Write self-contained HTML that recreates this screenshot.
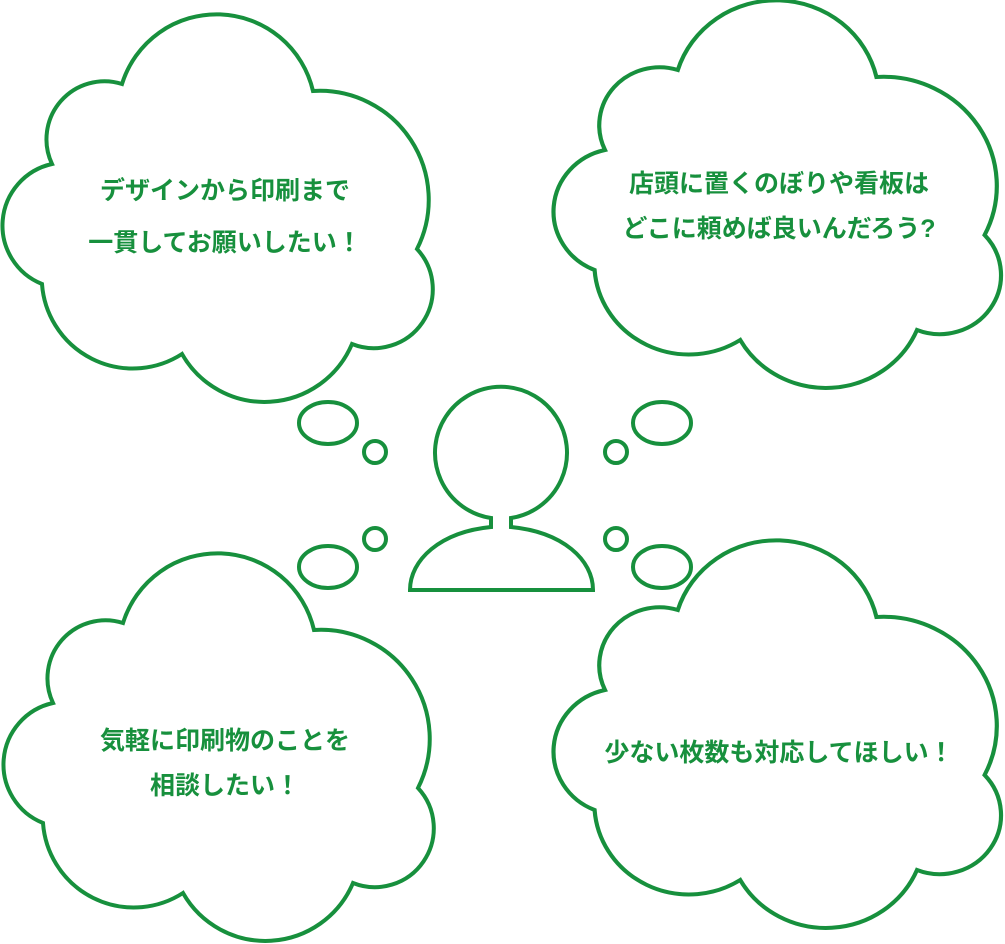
<!DOCTYPE html>
<html><head><meta charset="utf-8"><style>
body{margin:0;background:#fff;width:1005px;height:944px;overflow:hidden}
svg{display:block}
text{font-family:"Liberation Sans","Noto Sans CJK JP",sans-serif;font-weight:bold;font-size:25px;fill:#17903d;text-anchor:middle}
</style></head><body>
<svg width="1005" height="944" viewBox="0 0 1005 944">
<defs>
<path id="cl" d="M120,82 A99,99 0 0 1 311,89 A109,109 0 0 1 415,247 A59,59 0 0 1 350,342 A95,95 0 0 1 180,352 A91,91 0 0 1 40,282 A63,63 0 0 1 50,162 A58,58 0 0 1 120,82 Z"/>
</defs>
<g fill="#fff" stroke="#17903d" stroke-width="4">
<use href="#cl" transform="translate(2,2)"/>
<use href="#cl" transform="translate(553,-12) scale(1.04,1)"/>
<use href="#cl" transform="translate(3,541)"/>
<use href="#cl" transform="translate(553,528) scale(1.04,1)"/>
<ellipse cx="328" cy="423" rx="29" ry="21"/>
<circle cx="375" cy="452" r="11"/>
<circle cx="375" cy="539" r="11"/>
<ellipse cx="328" cy="567" rx="29" ry="21"/>
<ellipse cx="662" cy="423" rx="29" ry="21"/>
<circle cx="616" cy="452" r="11"/>
<circle cx="616" cy="539" r="11"/>
<ellipse cx="662" cy="567" rx="29" ry="21"/>
<path d="M491,518 A66,66 0 1 1 511,518 L511,527 C563,532 593,560 593,590 L410,590 C410,560 440,532 491,527 Z"/>
</g>
<text x="225" y="199">デザインから印刷まで</text>
<text x="225" y="251">一貫してお願いしたい！</text>
<text x="779" y="192">店頭に置くのぼりや看板は</text>
<text x="779" y="237">どこに頼めば良いんだろう?</text>
<text x="225" y="749">気軽に印刷物のことを</text>
<text x="225" y="794">相談したい！</text>
<text x="779" y="761">少ない枚数も対応してほしい！</text>
</svg>
</body></html>
